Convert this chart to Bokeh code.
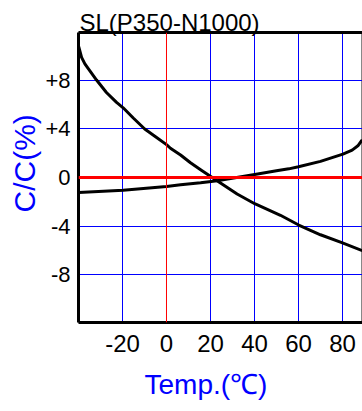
from bokeh.plotting import figure
from bokeh.models import (LinearAxis, FixedTicker, Span, Range1d, Title)
from bokeh.embed import file_html
from bokeh.resources import INLINE

# ---- data ----
title_text = "SL(P350-N1000)"
x_label = "Temp.(℃)"
y_label = "C/C(%)"

x_ticks = [-20, 0, 20, 40, 60, 80]
x_tick_labels = {-20: "-20", 0: "0", 20: "20", 40: "40", 60: "60", 80: "80"}
y_ticks = [8, 4, 0, -4, -8]
y_tick_labels = {8: "+8", 4: "+4", 0: "0", -4: "-4", -8: "-8"}

# falling curve (N1000)
n_temp = [-39.9, -38.6, -37.1, -34.9, -31.8, -27.3, -22.7, -19.7, -15.1, -9.9,
          -4.5, 0.0, 1.8, 6.4, 10.9, 16.0, 23.0, 32.1, 40.1, 51.8, 60.1, 70.0, 80.0, 89.0]
n_cc = [10.75, 9.86, 9.32, 8.77, 8.0, 6.98, 6.16, 5.72, 4.88, 3.98,
        3.29, 2.70, 2.40, 1.85, 1.21, 0.58, -0.27, -1.35, -2.15, -3.10, -3.90, -4.70, -5.36, -6.0]

# rising curve (P350)
p_temp = [-39.9, -19.7, 0.0, 6.4, 15.5, 20.3, 23.0, 40.1, 50.0, 55.6, 60.0, 70.0,
          80.2, 84.4, 87.0, 88.6, 89.0]
p_cc = [-1.23, -1.04, -0.74, -0.60, -0.43, -0.32, -0.27, 0.25, 0.55, 0.71, 0.88, 1.32,
        1.92, 2.25, 2.60, 3.00, 3.07]

FONT = "Liberation Sans"
BLUE = "#0000FF"
RED = "#FF0000"

p = figure(width=362, height=411, output_backend="svg", toolbar_location=None,
           x_range=Range1d(-40, 89.1), y_range=Range1d(-11.9, 11.9),
           x_axis_location=None, y_axis_location=None,
           min_border_left=78, min_border_right=0, min_border_top=32, min_border_bottom=89)
p.outline_line_color = "#888888"
p.outline_line_width = 1
p.background_fill_color = "white"
p.border_fill_color = "white"

# grid
p.xgrid.ticker = FixedTicker(ticks=[-20, 20, 40, 60, 80])
p.ygrid.ticker = FixedTicker(ticks=[8, 4, -4, -8])
p.xgrid.grid_line_color = BLUE
p.ygrid.grid_line_color = BLUE
p.xgrid.grid_line_width = 1
p.ygrid.grid_line_width = 1

p.add_layout(Span(location=0, dimension="height", line_color=RED, line_width=1))
p.add_layout(Span(location=0, dimension="width", line_color=RED, line_width=3))

# axes
xax = LinearAxis(ticker=FixedTicker(ticks=x_ticks))
xax.major_label_overrides = x_tick_labels
xax.axis_line_width = 3
xax.axis_line_color = "black"
xax.major_tick_line_color = None
xax.minor_tick_line_color = None
xax.major_tick_out = 0
xax.major_label_standoff = 12
xax.major_label_text_font = FONT
xax.major_label_text_font_size = "24px"
xax.major_label_text_color = "black"
p.add_layout(xax, "below")

yax = LinearAxis(ticker=FixedTicker(ticks=y_ticks))
yax.major_label_overrides = y_tick_labels
yax.axis_line_width = 3
yax.axis_line_color = "black"
yax.major_tick_line_color = None
yax.minor_tick_line_color = None
yax.major_tick_out = 0
yax.major_label_standoff = 8
yax.major_label_text_font = FONT
yax.major_label_text_font_size = "22px"
yax.major_label_text_color = "black"
p.add_layout(yax, "left")

top = LinearAxis(ticker=FixedTicker(ticks=[]))
top.axis_line_width = 3
top.axis_line_color = "black"
top.major_tick_line_color = None
top.minor_tick_line_color = None
top.major_label_text_font_size = "0px"
top.major_tick_out = 0
top.major_label_standoff = 0
p.add_layout(top, "above")

# curves
p.line(n_temp, n_cc, line_color="black", line_width=3, line_join="round")
p.line(p_temp, p_cc, line_color="black", line_width=3, line_join="round")

# texts as titles (outside the frame)
p.title.text = title_text
p.title.text_font = FONT
p.title.text_font_size = "24px"
p.title.text_font_style = "normal"
p.title.text_color = "black"
p.title.align = "left"
p.title.offset = 1
p.title.standoff = -7

p.add_layout(Title(text=y_label, text_font=FONT, text_font_size="30px",
                   text_font_style="normal", text_color=BLUE,
                   align="left", offset=110, standoff=4), "left")
p.add_layout(Title(text=x_label, text_font=FONT, text_font_size="28px",
                   text_font_style="normal", text_color=BLUE,
                   align="left", offset=66, standoff=24), "below")

open("out.html", "w").write(file_html(p, INLINE))
